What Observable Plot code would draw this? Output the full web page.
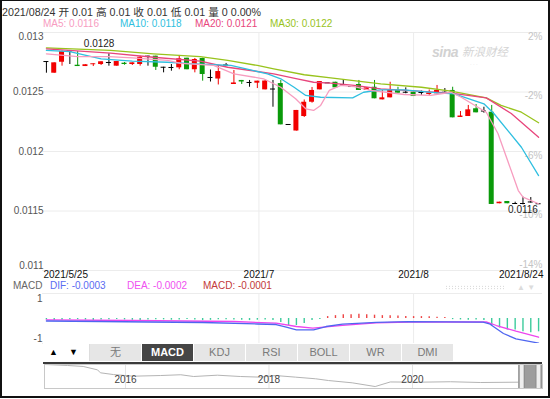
<!DOCTYPE html>
<html><head><meta charset="utf-8">
<script src="https://cdn.jsdelivr.net/npm/d3@7"></script>
<script src="https://cdn.jsdelivr.net/npm/@observablehq/plot@0.6"></script>
<style>
body{margin:0;background:#fff;font-family:"Liberation Sans",Arial,"Noto Sans CJK SC",sans-serif;}
#frame{position:absolute;left:0;top:0;width:546px;height:395px;border:2px solid #111;border-top:1px solid #111;}
.abs{position:absolute;white-space:nowrap;line-height:1;}
.tab{position:absolute;top:344px;height:17px;width:51px;background:#e6e6e6;color:#7a7a7a;font-size:11px;line-height:17px;text-align:center;}
.tab.on{background:#454545;color:#fff;font-weight:bold;}
svg{position:absolute;left:0;}
</style></head><body>
<div id="frame"></div>
<script>
// ---------- data ----------
const priceTicks = [0.013, 0.0125, 0.012, 0.0115, 0.011];
const priceTickLabels = ["0.013", "0.0125", "0.012", "0.0115", "0.011"];
const pctTickLabels = ["2%", "-2%", "-6%", "-10%", "-14%"];
const monthIdx = [27.2, 47];
const monthLabels = ["2021/7", "2021/8"];
const firstDate = "2021/5/25";
const lastDate = "2021/8/24";
const headerDate = "2021/08/24";

const opens = [0.012756,0.012658,0.012750,0.012845,0.012725,0.012714,0.012729,0.012731,0.012748,0.012717,
0.012742,0.012731,0.012731,0.012801,0.012801,0.012708,0.012706,0.012703,0.012784,0.012687,
0.012782,0.012622,0.012609,0.012727,0.012563,0.012597,0.012580,0.012574,0.012518,0.012525,
0.012571,0.012227,0.012172,0.012294,0.012414,0.012518,0.012577,0.012582,0.012563,0.012546,
0.012563,0.012513,0.012540,0.012434,0.012451,0.012513,0.012498,0.012498,0.012496,0.012479,
0.012485,0.012498,0.012513,0.012286,0.012294,0.012359,0.012340,0.012330,0.011561,0.011580,
0.011563,0.011563,0.011576,0.011561];
const highs = [0.012756,0.012745,0.012845,0.012849,0.012840,0.012729,0.012737,0.012754,0.012821,0.012756,
0.012748,0.012745,0.012801,0.012801,0.012801,0.012708,0.012731,0.012807,0.012784,0.012782,
0.012784,0.012685,0.012723,0.012740,0.012681,0.012597,0.012597,0.012591,0.012597,0.012597,
0.012597,0.012227,0.012345,0.012433,0.012538,0.012588,0.012577,0.012582,0.012605,0.012546,
0.012597,0.012535,0.012597,0.012513,0.012582,0.012540,0.012535,0.012498,0.012508,0.012517,
0.012555,0.012529,0.012540,0.012336,0.012387,0.012395,0.012372,0.012387,0.011574,0.011580,
0.011574,0.011616,0.011613,0.011561];
const lows = [0.012658,0.012658,0.012717,0.012731,0.012714,0.012714,0.012714,0.012723,0.012717,0.012717,
0.012725,0.012723,0.012717,0.012717,0.012681,0.012661,0.012675,0.012687,0.012687,0.012661,
0.012591,0.012584,0.012559,0.012727,0.012563,0.012563,0.012540,0.012529,0.012518,0.012372,
0.012224,0.012227,0.012172,0.012286,0.012406,0.012518,0.012577,0.012535,0.012546,0.012546,
0.012513,0.012513,0.012443,0.012434,0.012451,0.012490,0.012485,0.012462,0.012471,0.012471,
0.012485,0.012498,0.012283,0.012286,0.012294,0.012325,0.012322,0.011555,0.011561,0.011561,
0.011555,0.011552,0.011566,0.011561];
const closes = [0.012756,0.012745,0.012840,0.012845,0.012714,0.012729,0.012737,0.012754,0.012748,0.012756,
0.012731,0.012745,0.012792,0.012801,0.012708,0.012708,0.012706,0.012779,0.012687,0.012773,
0.012647,0.012622,0.012672,0.012727,0.012576,0.012584,0.012580,0.012591,0.012592,0.012525,
0.012224,0.012227,0.012345,0.012414,0.012513,0.012588,0.012577,0.012535,0.012563,0.012546,
0.012513,0.012535,0.012443,0.012451,0.012513,0.012490,0.012498,0.012462,0.012496,0.012492,
0.012513,0.012498,0.012283,0.012298,0.012350,0.012325,0.012340,0.011555,0.011574,0.011561,
0.011563,0.011563,0.011576,0.011561];

const ma5I = [0,4,8,11,15.5,17.2,21.4,24,27.8,30,31.9,33.2,34.2,35.1,36.2,37.7,39.4,41.5,45.8,49.2,51.8,53.1,56.3,57.8,60.4,61,63];
const ma5V = [0.012821,0.012798,0.012798,0.012787,0.012765,0.012740,0.012723,0.012653,0.012611,0.012540,0.012443,0.012359,0.012345,0.012387,0.012513,0.012555,0.012546,0.012513,0.012479,0.012471,0.012498,0.012456,0.012330,0.012151,0.011672,0.011616,0.011561];
const ma10I = [0,3,7,11,15.5,19,23.6,28.3,30,31.7,33.2,35.1,39.2,40.6,42.8,45.8,50.1,52.2,56,57.3,60.8,63];
const ma10V = [0.012849,0.012840,0.012779,0.012759,0.012750,0.012737,0.012723,0.012653,0.012611,0.012540,0.012471,0.012456,0.012451,0.012498,0.012518,0.012518,0.012493,0.012485,0.012401,0.012317,0.012036,0.011798];
const ma20I = [0,8.2,13.7,19.7,23.2,29.1,32.1,34.2,36.4,39.4,42.8,51.8,56.3,59.5,63];
const ma20V = [0.012863,0.012826,0.012792,0.012759,0.012708,0.012653,0.012611,0.012582,0.012574,0.012555,0.012527,0.012490,0.012451,0.012319,0.012120];
const ma30I = [0,8.2,13.7,19.7,23.2,27,29.1,33,36.4,42.8,48,51.8,56.3,58.2,60.8,63];
const ma30V = [0.012871,0.012849,0.012821,0.012798,0.012765,0.012723,0.012695,0.012645,0.012619,0.012569,0.012540,0.012507,0.012451,0.012387,0.012330,0.012242];

const difI = [0,7,13,20,27,29.4,30.7,32,34.2,35.8,37.9,42.2,46.4,55.9,56.7,58.5,60.1,63];
const difV = [-0.0000263,-0.0000316,-0.0000368,-0.0000421,-0.0000579,-0.0000632,-0.0000916,-0.000119,-0.000119,-0.0000842,-0.0000600,-0.000040,-0.000033,-0.000038,-0.0000558,-0.000158,-0.000214,-0.00026];
const deaI = [0,11,24,29.4,32,34.1,37.9,42.2,46.4,56.3,57.6,60.1,63];
const deaV = [-0.0000137,-0.0000211,-0.0000316,-0.0000495,-0.0000842,-0.000102,-0.000072,-0.000046,-0.000037,-0.000035,-0.0000737,-0.000134,-0.000197];
const macdHist = [-0.000015,-0.00002,-0.000018,-0.000014,-0.000012,-0.000016,-0.000021,-0.000017,-0.000013,-0.000011,
-0.000015,-0.000019,-0.00002,-0.000016,-0.000012,-0.000014,-0.000018,-0.000015,-0.000011,-0.000016,
-0.000022,-0.000019,-0.000014,-0.000012,-0.000017,-0.000019,-0.000022,-0.000018,-0.000016,-0.000021,
-0.000042,-0.000074,-0.000074,-0.000053,-0.000021,-0.00001,
0.00002,0.00003,0.00004,0.00004,0.000045,0.00004,0.000035,0.00003,0.00003,0.000025,0.00002,0.00002,0.00002,0.000018,0.000012,0.00001,
-0.000012,-0.000015,-0.000018,-0.000015,-0.00002,
-0.00008,-0.0001,-0.00012,-0.00012,-0.00014,-0.00015,-0.00014];
const macdDomain = [-0.000263, 0.000263];
const macdTickVals = [0.00021, -0.00021];
const macdTickLabels = ["1", "-1"];

const navYears = [2014.885,2015.19,2015.41,2015.61,2015.65,2015.83,2016.11,2016.49,2016.77,2016.95,2017.28,2017.60,2017.88,2018.09,2018.37,2018.65,2018.83,2019.16,2019.48,2019.69,2020.11,2020.53,2020.95,2021.48,2021.78];
const navValues = [0.0320,0.0311,0.0302,0.0271,0.0244,0.0228,0.0213,0.0219,0.0226,0.0210,0.0222,0.0210,0.0204,0.0219,0.0204,0.0189,0.0173,0.0152,0.0118,0.0160,0.0158,0.0162,0.0155,0.0158,0.0140];
const navDomain = [2014.871, 2021.812];
const navYDomain = [0.010, 0.032];
const navTickYears = [2016, 2018, 2020];
const navWindow = [2021.48, 2021.812];

const tabs = ["无", "MACD", "KDJ", "RSI", "BOLL", "WR", "DMI"];
const activeTab = "MACD";

// ---------- styles ----------
const UP = "#f20000", DOWN = "#0a9a0a", FLAT = "#000";
const C5 = "#f79cbf", C10 = "#2fbfe0", C20 = "#e8457c", C30 = "#98c31c";
const FONT = '"Liberation Sans", Arial, "Noto Sans CJK SC", sans-serif';
const baseStyle = {fontFamily: FONT, fontSize: "10px", background: "transparent", overflow: "visible"};
const N = opens.length;
const xDomain = [-0.5, N - 0.5];
const HW = 0.32;

const candles = opens.map((o, i) => ({i, o, h: highs[i], l: lows[i], c: closes[i],
  col: closes[i] > o ? UP : closes[i] < o ? DOWN : FLAT}));
const pts = (I, V) => I.map((i, k) => ({i, v: V[k]}));
const ticks = priceTicks.map((v, k) => ({v, lab: priceTickLabels[k], pct: pctTickLabels[k], k}));
const months = monthIdx.map((i, k) => ({i, lab: monthLabels[k]}));
const maxI = d3.maxIndex(highs), minI = d3.minIndex(lows);

// ---------- header html ----------
function addText(txt, left, top, size, color, extra = "") {
  const d = document.createElement("div");
  d.className = "abs";
  d.style.cssText += `left:${left}px;top:${top}px;font-size:${size}px;color:${color};${extra}`;
  d.textContent = txt;
  document.body.appendChild(d);
  return d;
}
const last = N - 1;
addText(`${headerDate} 开 ${opens[last].toFixed(2)} 高 ${highs[last].toFixed(2)} 收 ${closes[last].toFixed(2)} 低 ${lows[last].toFixed(2)} 量 0 0.00%`, 2, 7, 10.7, "#333");
addText(`MA5: ${ma5V[ma5V.length-1].toFixed(4)}`, 43, 19, 10, C5);
addText(`MA10: ${ma10V[ma10V.length-1].toFixed(4)}`, 120, 19, 10, C10);
addText(`MA20: ${ma20V[ma20V.length-1].toFixed(4)}`, 195, 19, 10, C20);
addText(`MA30: ${ma30V[ma30V.length-1].toFixed(4)}`, 270, 19, 10, C30);

// watermark
addText("sina", 432, 45, 14, "#d2d2d2", "font-style:italic;font-weight:bold;letter-spacing:-0.5px;");
addText("新浪财经", 462, 47, 11.5, "#d4d4d4", "font-style:italic;");
addText("·  ·  ·", 470, 62, 5, "#e0e0e0");

// ---------- main chart ----------
const main = Plot.plot({
  width: 550, height: 290,
  marginTop: 32, marginBottom: 20, marginLeft: 42, marginRight: 8,
  x: {type: "linear", domain: xDomain, axis: null},
  y: {domain: [priceTicks[priceTicks.length-1], priceTicks[0]], axis: null},
  color: {type: "identity"},
  style: baseStyle,
  marks: [
    Plot.ruleY(ticks, {y: "v", stroke: "#ececec"}),
    Plot.ruleX(months, {x: "i", stroke: "#ececec"}),
    Plot.text(ticks.filter(d => d.k > 0 && d.k < ticks.length - 1), {y: "v", text: "lab", frameAnchor: "left", textAnchor: "end", dx: 1, fill: "#555"}),
    Plot.text(ticks.filter(d => d.k === 0), {y: "v", text: "lab", frameAnchor: "left", textAnchor: "end", dx: 1, dy: 4, fill: "#555"}),
    Plot.text(ticks.filter(d => d.k === ticks.length - 1), {y: "v", text: "lab", frameAnchor: "left", textAnchor: "end", dx: 1, dy: -5, fill: "#555"}),
    Plot.text(ticks.filter(d => d.k < ticks.length - 1), {y: "v", text: "pct", frameAnchor: "right", textAnchor: "end", dy: 4, fill: "#c4c4c4"}),
    Plot.text(ticks.filter(d => d.k === ticks.length - 1), {y: "v", text: "pct", frameAnchor: "right", textAnchor: "end", dy: -6, fill: "#c4c4c4"}),
    Plot.text(months, {x: "i", text: "lab", frameAnchor: "bottom", dy: 7, fill: "#111"}),
    Plot.text([firstDate], {text: d => d, frameAnchor: "bottom-left", textAnchor: "start", dx: 1, dy: 7, fill: "#111"}),
    Plot.text([lastDate], {text: d => d, frameAnchor: "bottom-right", textAnchor: "end", dx: 1, dy: 7, fill: "#111"}),
    Plot.ruleX(candles, {x: "i", y1: "l", y2: "h", stroke: "col", strokeWidth: 1}),
    Plot.rect(candles.filter(d => d.c !== d.o), {x1: d => d.i - HW, x2: d => d.i + HW, y1: "o", y2: "c", fill: "col"}),
    Plot.ruleY(candles.filter(d => d.c === d.o), {y: "c", x1: d => d.i - HW, x2: d => d.i + HW, stroke: "col", strokeWidth: 1}),
    Plot.line(pts(ma30I, ma30V), {x: "i", y: "v", stroke: C30, strokeWidth: 1.3}),
    Plot.line(pts(ma20I, ma20V), {x: "i", y: "v", stroke: C20, strokeWidth: 1.3}),
    Plot.line(pts(ma10I, ma10V), {x: "i", y: "v", stroke: C10, strokeWidth: 1.3}),
    Plot.line(pts(ma5I, ma5V), {x: "i", y: "v", stroke: C5, strokeWidth: 1.3}),
    Plot.text([maxI], {x: d => d, y: d => highs[d], text: d => highs[d].toFixed(4), textAnchor: "start", dx: 14, dy: -7, fill: "#222"}),
    Plot.text([minI], {x: d => d, y: d => lows[d], text: d => lows[d].toFixed(4), dy: 5, fill: "#222"})
  ]
});
main.style.top = "0px";
document.body.appendChild(main);

// faint resize grip and arrows
const grip = document.createElement("div");
grip.className = "abs";
grip.style.cssText += "left:445px;top:285px;width:60px;height:5px;background-image:radial-gradient(#cfcfcf 0.7px, transparent 0.9px);background-size:3px 2.5px;";
document.body.appendChild(grip);
addText("▲  ▼", 517, 284, 8, "#dcdcdc");

// ---------- MACD panel ----------
addText("MACD", 13, 281, 10, "#666");
addText(`DIF: ${difV[difV.length-1].toFixed(4)}`, 50, 281, 10, "#5a6cf2");
addText(`DEA: ${deaV[deaV.length-1].toFixed(4)}`, 127, 281, 10, "#f050f0");
addText(`MACD: ${macdHist[macdHist.length-1].toFixed(4)}`, 203, 281, 10, "#c23a3a");

const hist = macdHist.map((v, i) => ({i, v, col: v >= 0 ? "#ee4444" : "#3ccb9c"}));
const macd = Plot.plot({
  width: 550, height: 60,
  marginTop: 5, marginBottom: 5, marginLeft: 42, marginRight: 8,
  x: {type: "linear", domain: xDomain, axis: null},
  y: {domain: macdDomain, axis: null},
  color: {type: "identity"},
  style: baseStyle,
  marks: [
    Plot.ruleY(macdDomain, {stroke: "#ececec"}),
    Plot.ruleX(months, {x: "i", stroke: "#ececec"}),
    Plot.text(macdTickVals.map((v, k) => ({v, lab: macdTickLabels[k]})), {y: "v", text: "lab", frameAnchor: "left", textAnchor: "end", dx: 0, fill: "#555"}),
    Plot.ruleX(hist, {x: "i", y1: 0, y2: "v", stroke: "col", strokeWidth: 1.4}),
    Plot.line(pts(deaI, deaV), {x: "i", y: "v", stroke: "#ee44ee", strokeWidth: 1.3}),
    Plot.line(pts(difI, difV), {x: "i", y: "v", stroke: "#4f66f0", strokeWidth: 1.3})
  ]
});
macd.style.top = "288px";
document.body.appendChild(macd);

// ---------- tab bar ----------
const bar = document.createElement("div");
bar.className = "abs";
bar.style.cssText += "left:43px;top:343px;width:499px;height:19px;background:#fff;";
document.body.appendChild(bar);
addText("▲", 49, 348, 9, "#000");
addText("▼", 69, 348, 9, "#000");
const sep = document.createElement("div");
sep.className = "abs";
sep.style.cssText += "left:89px;top:344px;width:1px;height:17px;background:#ddd;";
document.body.appendChild(sep);
tabs.forEach((t, k) => {
  const d = document.createElement("div");
  d.className = "tab" + (t === activeTab ? " on" : "");
  d.style.left = (90 + k * 52) + "px";
  d.textContent = t;
  document.body.appendChild(d);
});
const dark = document.createElement("div");
dark.className = "abs";
dark.style.cssText += "left:43px;top:362px;width:499px;height:2px;background:#3a3a3a;";
document.body.appendChild(dark);

// ---------- navigator ----------
const nav = Plot.plot({
  width: 550, height: 24,
  marginTop: 0, marginBottom: 0, marginLeft: 44, marginRight: 8,
  x: {domain: navDomain, axis: null},
  y: {domain: navYDomain, axis: null},
  style: baseStyle,
  marks: [
    Plot.ruleX(navTickYears, {stroke: "#e4e4e4"}),
    Plot.line(navYears.map((t, k) => ({t, v: navValues[k]})), {x: "t", y: "v", stroke: "#b4b4b4", strokeWidth: 1}),
    Plot.text(navTickYears, {x: d => d, text: d => String(d), frameAnchor: "middle", dy: 3, fill: "#444"}),
    Plot.rect([navWindow], {x1: d => d[0], x2: d => d[1], fill: "#9d9d9d"}),
    Plot.ruleX([navWindow[0]], {stroke: "#8a8a8a", strokeWidth: 6, dx: 3}),
    Plot.ruleX([navWindow[0]], {stroke: "#eeeeee", strokeWidth: 4, dx: 3}),
    Plot.ruleX([navWindow[1]], {stroke: "#8a8a8a", strokeWidth: 6, dx: -4}),
    Plot.ruleX([navWindow[1]], {stroke: "#eeeeee", strokeWidth: 4, dx: -4}),
    Plot.frame({stroke: "#c8c8c8"})
  ]
});
nav.style.top = "364px";
document.body.appendChild(nav);
</script>
</body></html>
